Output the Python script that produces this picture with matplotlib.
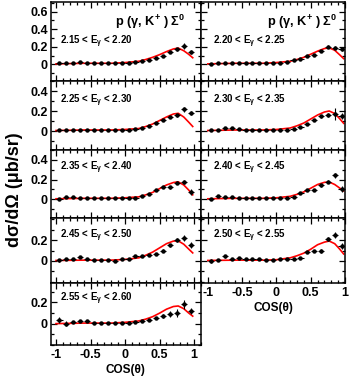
import matplotlib
matplotlib.use("Agg")
import matplotlib.pyplot as plt
from matplotlib.ticker import MultipleLocator, FixedLocator, FixedFormatter, NullFormatter

plt.rcParams['font.family'] = ['Liberation Sans', 'DejaVu Sans']
plt.rcParams['font.weight'] = 'bold'
plt.rcParams['mathtext.fontset'] = 'custom'
plt.rcParams['mathtext.rm'] = 'Liberation Sans'
plt.rcParams['mathtext.it'] = 'Liberation Sans:italic'
plt.rcParams['mathtext.bf'] = 'Liberation Sans:bold'
plt.rcParams['mathtext.default'] = 'regular'

# ---------------- data ----------------
cos_bins = [-0.95, -0.85, -0.75, -0.65, -0.55, -0.45, -0.35, -0.25, -0.15, -0.05,
            0.05, 0.15, 0.25, 0.35, 0.45, 0.55, 0.65, 0.75, 0.85, 0.95]

energy_labels = ["2.15 < E$_{\\gamma}$ < 2.20", "2.20 < E$_{\\gamma}$ < 2.25",
                 "2.25 < E$_{\\gamma}$ < 2.30", "2.30 < E$_{\\gamma}$ < 2.35",
                 "2.35 < E$_{\\gamma}$ < 2.40", "2.40 < E$_{\\gamma}$ < 2.45",
                 "2.45 < E$_{\\gamma}$ < 2.50", "2.50 < E$_{\\gamma}$ < 2.55",
                 "2.55 < E$_{\\gamma}$ < 2.60"]

xs_215 = [0.010, 0.015, 0.020, 0.025, 0.020, 0.015, 0.015, 0.015, 0.020, 0.020,
          0.020, 0.030, 0.040, 0.050, 0.070, 0.100, 0.140, 0.170, 0.210, 0.140]
err_215 = [0.008, 0.006, 0.006, 0.010, 0.006, 0.005, 0.005, 0.005, 0.005, 0.005,
           0.005, 0.006, 0.006, 0.007, 0.008, 0.010, 0.012, 0.015, 0.035, 0.025]
xs_220 = [0.005, 0.010, 0.012, 0.015, 0.020, 0.015, 0.012, 0.012, 0.015, 0.015,
          0.020, 0.025, 0.045, 0.060, 0.090, 0.110, 0.150, 0.200, 0.190, 0.170]
err_220 = [0.006, 0.005, 0.005, 0.005, 0.005, 0.005, 0.005, 0.005, 0.005, 0.005,
           0.005, 0.006, 0.006, 0.007, 0.008, 0.010, 0.012, 0.015, 0.020, 0.020]
xs_225 = [0.010, 0.012, 0.015, 0.015, 0.012, 0.012, 0.010, 0.012, 0.012, 0.010,
          0.012, 0.020, 0.030, 0.050, 0.080, 0.110, 0.140, 0.160, 0.220, 0.180]
err_225 = [0.006, 0.005, 0.005, 0.005, 0.005, 0.005, 0.005, 0.005, 0.005, 0.005,
           0.005, 0.006, 0.006, 0.007, 0.008, 0.010, 0.012, 0.015, 0.025, 0.020]
xs_230 = [0.010, 0.015, 0.030, 0.030, 0.020, 0.012, 0.010, 0.010, 0.010, 0.010,
          0.010, 0.012, 0.020, 0.040, 0.070, 0.110, 0.150, 0.160, 0.170, 0.150]
err_230 = [0.008, 0.006, 0.008, 0.008, 0.006, 0.005, 0.005, 0.005, 0.005, 0.005,
           0.005, 0.006, 0.006, 0.007, 0.008, 0.012, 0.015, 0.020, 0.060, 0.030]
xs_235 = [0.000, 0.020, 0.020, 0.015, 0.015, 0.012, 0.010, 0.010, 0.010, 0.012,
          0.010, 0.015, 0.030, 0.050, 0.090, 0.120, 0.120, 0.170, 0.175, 0.075]
err_235 = [0.010, 0.008, 0.006, 0.005, 0.005, 0.005, 0.005, 0.005, 0.005, 0.005,
           0.005, 0.006, 0.006, 0.007, 0.008, 0.010, 0.012, 0.015, 0.020, 0.030]
xs_240 = [0.000, 0.030, 0.020, 0.020, 0.015, 0.012, 0.010, 0.010, 0.010, 0.010,
          0.010, 0.015, 0.020, 0.060, 0.090, 0.090, 0.140, 0.180, 0.245, 0.100]
err_240 = [0.010, 0.010, 0.006, 0.005, 0.005, 0.005, 0.005, 0.005, 0.005, 0.005,
           0.005, 0.006, 0.006, 0.007, 0.008, 0.010, 0.012, 0.015, 0.025, 0.030]
xs_245 = [0.005, 0.015, 0.015, 0.040, 0.015, 0.010, 0.010, 0.010, 0.000, 0.020,
          0.015, 0.050, 0.050, 0.060, 0.070, 0.100, 0.150, 0.200, 0.220, 0.150]
err_245 = [0.010, 0.008, 0.008, 0.012, 0.006, 0.005, 0.005, 0.005, 0.006, 0.006,
           0.005, 0.006, 0.006, 0.007, 0.008, 0.010, 0.015, 0.020, 0.030, 0.030]
xs_250 = [0.000, 0.005, 0.045, 0.020, 0.030, 0.020, 0.015, 0.015, 0.010, 0.010,
          0.015, 0.020, 0.020, 0.030, 0.090, 0.095, 0.095, 0.210, 0.245, 0.145]
err_250 = [0.020, 0.008, 0.012, 0.006, 0.008, 0.006, 0.005, 0.005, 0.005, 0.005,
           0.005, 0.006, 0.006, 0.007, 0.010, 0.012, 0.015, 0.020, 0.030, 0.030]
xs_255 = [0.035, 0.000, 0.015, 0.025, 0.020, 0.010, 0.005, 0.005, 0.010, 0.010,
          0.010, 0.015, 0.025, 0.035, 0.050, 0.070, 0.090, 0.100, 0.180, 0.120]
err_255 = [0.030, 0.020, 0.010, 0.008, 0.006, 0.005, 0.005, 0.005, 0.005, 0.005,
           0.005, 0.006, 0.006, 0.008, 0.010, 0.020, 0.030, 0.040, 0.040, 0.030]

model_cos = [-1.0, -0.6, -0.2, 0.0, 0.2, 0.3, 0.4, 0.5, 0.6, 0.7, 0.77, 0.85, 0.92, 0.98]
model_215 = [0.005, 0.012, 0.012, 0.020, 0.035, 0.055, 0.080, 0.110, 0.145, 0.175, 0.185, 0.155, 0.115, 0.075]
model_220 = [0.005, 0.012, 0.012, 0.020, 0.035, 0.055, 0.080, 0.115, 0.150, 0.180, 0.188, 0.160, 0.110, 0.065]
model_225 = [0.005, 0.010, 0.010, 0.015, 0.025, 0.045, 0.070, 0.105, 0.140, 0.170, 0.177, 0.140, 0.090, 0.045]
model_230 = [0.005, 0.010, 0.010, 0.015, 0.030, 0.052, 0.080, 0.120, 0.160, 0.190, 0.200, 0.175, 0.125, 0.077]
model_235 = [0.005, 0.010, 0.010, 0.015, 0.025, 0.045, 0.070, 0.108, 0.145, 0.170, 0.177, 0.145, 0.095, 0.045]
model_240 = [0.005, 0.010, 0.010, 0.015, 0.030, 0.050, 0.075, 0.112, 0.150, 0.172, 0.175, 0.150, 0.115, 0.085]
model_245 = [0.005, 0.008, 0.008, 0.015, 0.030, 0.055, 0.085, 0.125, 0.165, 0.190, 0.192, 0.160, 0.115, 0.077]
model_250 = [0.005, 0.008, 0.008, 0.012, 0.030, 0.050, 0.075, 0.112, 0.155, 0.180, 0.190, 0.165, 0.115, 0.067]
model_255 = [0.000, 0.005, 0.005, 0.012, 0.025, 0.042, 0.065, 0.098, 0.135, 0.160, 0.165, 0.140, 0.100, 0.070]

data_sets = [xs_215, xs_220, xs_225, xs_230, xs_235, xs_240, xs_245, xs_250, xs_255]
err_sets = [err_215, err_220, err_225, err_230, err_235, err_240, err_245, err_250, err_255]
model_sets = [model_215, model_220, model_225, model_230, model_235, model_240,
              model_245, model_250, model_255]

title_text = "p (γ, K$^{+}$ ) Σ$^{0}$"
xlabel_text = "COS(θ)"
ylabel_text = "dσ/dΩ (μb/sr)"

# y tick labels per row
row_yticks = [[0, 0.2, 0.4, 0.6], [0, 0.2, 0.4], [0, 0.2, 0.4], [0, 0.2], [0, 0.2]]
row_ylims = [(-0.19, 0.71), (-0.19, 0.50), (-0.19, 0.50), (-0.21, 0.41), (-0.20, 0.38)]
x_ticks = [-1, -0.5, 0, 0.5, 1]
x_ticklabels = ["-1", "-0.5", "0", "0.5", "1"]

# ---------------- layout ----------------
W, H = 354, 379
fig = plt.figure(figsize=(W / 100, H / 100), dpi=100)

col_px = [(50.5, 201.0), (201.0, 345.0)]
col_xlim = [(-1.08, 1.10), (-1.10, 1.0)]
row_px = [(2, 81), (81, 150), (150, 218), (218, 283), (283, 345)]
label_y = [0.50, 0.72, 0.74, 0.73, 0.75]
label_x = [0.06, 0.08]
title_x = [0.43, 0.46]


def add_ax(col, row):
    x0, x1 = col_px[col]
    y0, y1 = row_px[row]
    return fig.add_axes([x0 / W, 1 - y1 / H, (x1 - x0) / W, (y1 - y0) / H])


for k in range(9):
    row = k // 2
    col = k % 2
    ax = add_ax(col, row)
    ax.set_xlim(*col_xlim[col])
    ax.set_ylim(*row_ylims[row])
    # model
    ax.plot(model_cos, model_sets[k], color='#ff0000', lw=1.2, zorder=2)
    # data
    ax.errorbar(cos_bins, data_sets[k], yerr=err_sets[k], xerr=0.045,
                fmt='o', ms=2.2, color='black', ecolor='black', elinewidth=0.8,
                capsize=0, zorder=3)
    ax.text(label_x[col], label_y[row], energy_labels[k], transform=ax.transAxes,
            fontsize=7, fontweight='bold', ha='left', va='center')
    if row == 0:
        ax.text(title_x[col], 0.75, title_text, transform=ax.transAxes,
                fontsize=9.2, fontweight='bold', ha='left', va='center')
    # ticks
    ax.xaxis.set_major_locator(FixedLocator(x_ticks))
    ax.xaxis.set_minor_locator(MultipleLocator(0.1))
    ax.yaxis.set_major_locator(FixedLocator(row_yticks[row]))
    ax.yaxis.set_minor_locator(MultipleLocator(0.1))
    ax.tick_params(which='both', direction='in', top=True, right=True, width=0.9)
    ax.tick_params(which='major', length=4.5, labelsize=9, pad=2)
    ax.tick_params(which='minor', length=2.2)
    for s in ax.spines.values():
        s.set_linewidth(1.1)
    if col == 0:
        ax.yaxis.set_major_formatter(FixedFormatter([("%g" % v) for v in row_yticks[row]]))
    else:
        ax.yaxis.set_major_formatter(NullFormatter())
    bottom = (col == 0 and row == 4) or (col == 1 and row == 3)
    if bottom:
        ax.xaxis.set_major_formatter(FixedFormatter(x_ticklabels))
        ax.tick_params(axis='x', pad=3)
        ax.set_xlabel(xlabel_text, fontsize=8.5, fontweight='bold', labelpad=2)
    else:
        ax.xaxis.set_major_formatter(NullFormatter())
    for lab in ax.get_xticklabels() + ax.get_yticklabels():
        lab.set_fontweight('bold')

fig.text(15 / W, 1 - 190 / H, ylabel_text, rotation=90, fontsize=13,
         fontweight='bold', ha='center', va='center')

fig.savefig("out.png", dpi=100)
